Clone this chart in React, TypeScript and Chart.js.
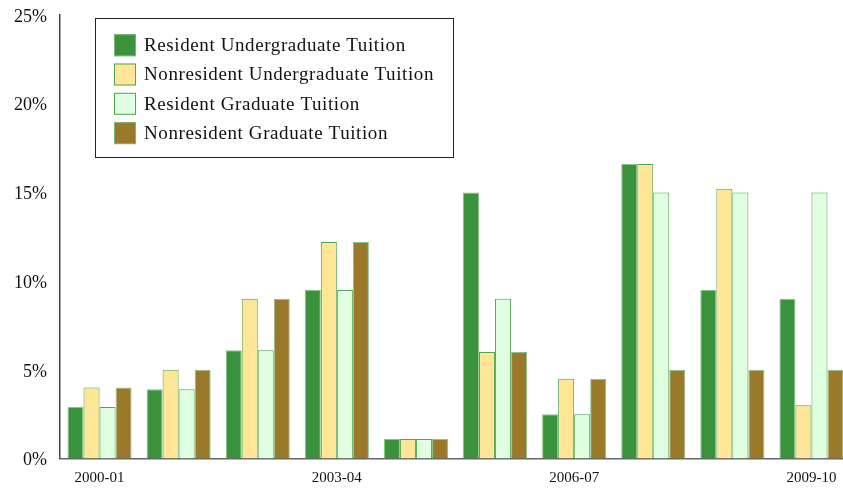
import React, { useEffect, useRef } from "react";
import { Chart, registerables } from "chart.js";

Chart.register(...registerables);

const categories = ["2000-01", "2001-02", "2002-03", "2003-04", "2004-05", "2005-06", "2006-07", "2007-08", "2008-09", "2009-10"];
const residentUndergrad = [2.9, 3.9, 6.1, 9.5, 1.1, 15.0, 2.5, 16.6, 9.5, 9.0];
const nonresidentUndergrad = [4.0, 5.0, 9.0, 12.2, 1.1, 6.0, 4.5, 16.6, 15.2, 3.0];
const residentGrad = [2.9, 3.9, 6.1, 9.5, 1.1, 9.0, 2.5, 15.0, 15.0, 15.0];
const nonresidentGrad = [4.0, 5.0, 9.0, 12.2, 1.1, 6.0, 4.5, 5.0, 5.0, 5.0];
const seriesLabels = [
  "Resident Undergraduate Tuition",
  "Nonresident Undergraduate Tuition",
  "Resident Graduate Tuition",
  "Nonresident Graduate Tuition",
];
const yTicks = [0, 5, 10, 15, 20, 25];

const FONT = "'Liberation Serif', 'DejaVu Serif', serif";
const fills = ["#3a933c", "#ffe697", "#e0ffe0", "#9a7a2a"];
const borders = ["rgba(120,190,120,0.9)", "#4ea64e", "#4ea64e", "rgba(120,190,120,0.9)"];

const legendBox = {
  id: "legendBox",
  afterDraw(chart: any) {
    const ctx = chart.ctx;
    ctx.save();
    const x0 = 95.5, y0 = 18.5, w = 358, h = 139;
    ctx.fillStyle = "#ffffff";
    ctx.fillRect(x0, y0, w, h);
    ctx.strokeStyle = "#222";
    ctx.lineWidth = 1;
    ctx.strokeRect(x0, y0, w, h);
    ctx.font = "19px " + FONT;
    try { (ctx as any).letterSpacing = "0.6px"; } catch (e) {}
    ctx.textBaseline = "middle";
    chart.data.datasets.forEach((ds: any, i: number) => {
      const cy = 45.2 + i * 29.3;
      ctx.fillStyle = ds.backgroundColor;
      ctx.fillRect(114, cy - 11, 22, 22);
      ctx.strokeStyle = ds.borderColor;
      ctx.strokeRect(114.5, cy - 10.5, 21, 21);
      ctx.fillStyle = "#111";
      ctx.fillText(ds.label, 144, cy + 1);
    });
    ctx.restore();
  },
};

export default function App() {
  const ref = useRef<HTMLCanvasElement>(null);
  useEffect(() => {
    const seriesData = [residentUndergrad, nonresidentUndergrad, residentGrad, nonresidentGrad];
    const chart = new Chart(ref.current!, {
      type: "bar",
      data: {
        labels: categories,
        datasets: seriesData.map((d, i) => ({
          label: seriesLabels[i],
          data: d,
          backgroundColor: fills[i],
          borderColor: borders[i],
          borderWidth: 1,
          borderSkipped: "bottom",
          categoryPercentage: 0.81,
          barPercentage: 1.0,
        })),
      },
      options: {
        animation: false,
        responsive: false,
        maintainAspectRatio: false,
        layout: { padding: { top: 15, right: 9, left: 0, bottom: 0 } },
        plugins: { legend: { display: false }, tooltip: { enabled: false } },
        scales: {
          x: {
            grid: { display: false },
            border: { display: true, color: "#666", width: 1.5 },
            ticks: {
              color: "#111",
              font: { family: FONT, size: 15 },
              maxRotation: 0,
              autoSkip: false,
              padding: 3,
              callback: (_v: any, i: number) => (i % 3 === 0 ? categories[i] : ""),
            },
            afterFit: (s: any) => { s.height = 30.5; s.paddingLeft = 0; s.paddingRight = 0; },
          },
          y: {
            min: 0,
            max: 25,
            grid: { display: false },
            border: { display: true, color: "#444", width: 1.5 },
            afterBuildTicks: (s: any) => { s.ticks = yTicks.map((v) => ({ value: v })); },
            ticks: {
              color: "#111",
              font: { family: FONT, size: 18 },
              padding: 5,
              labelOffset: 2,
              callback: (v: any) => v + "%",
            },
            afterFit: (s: any) => { s.width = 60; s.paddingTop = 0; s.paddingBottom = 0; },
          },
        },
      },
      plugins: [legendBox],
    });
    return () => chart.destroy();
  }, []);
  return (
    <div style={{ position: "fixed", left: 0, top: 0, width: 843, height: 489, overflow: "hidden", background: "#fff" }}>
      <canvas ref={ref} width={860} height={489} style={{ display: "block" }} />
    </div>
  );
}
